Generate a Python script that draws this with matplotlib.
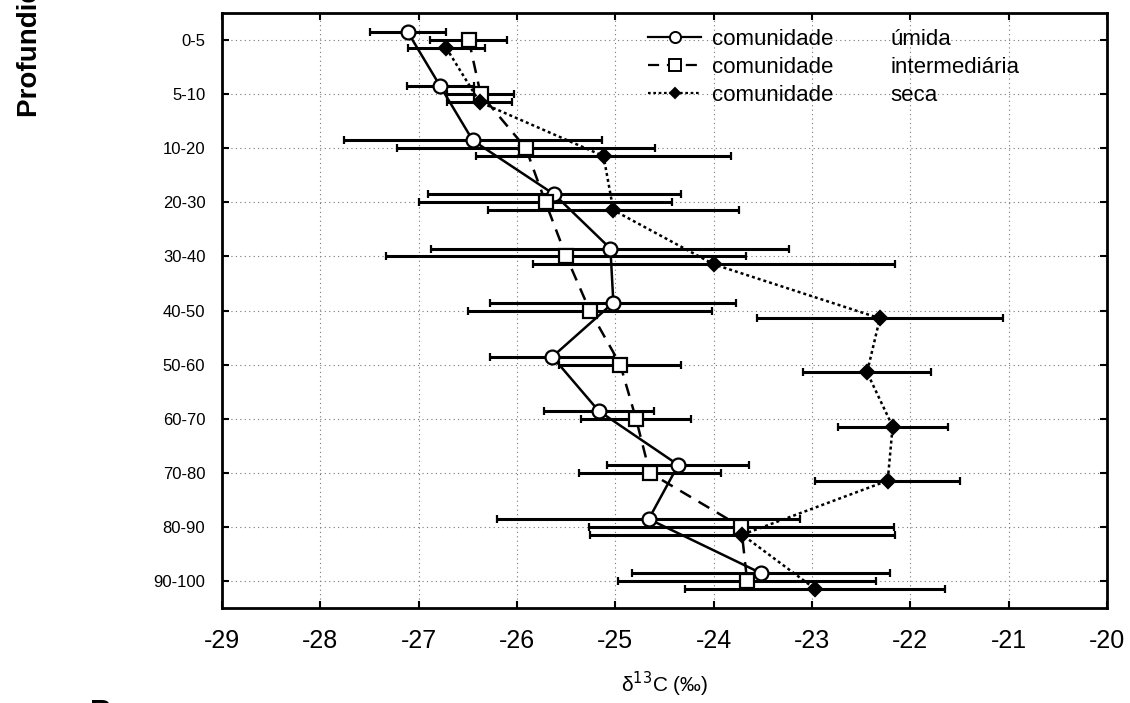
import matplotlib
matplotlib.use("Agg")
import matplotlib.pyplot as plt
from matplotlib.lines import Line2D
import numpy as np

plt.rcParams["font.family"] = ["Liberation Sans", "DejaVu Sans"]

depths = ["0-5", "5-10", "10-20", "20-30", "30-40", "40-50",
          "50-60", "60-70", "70-80", "80-90", "90-100"]

umida_mean = [-27.11, -26.78, -26.45, -25.62, -25.05, -25.02,
              -25.64, -25.17, -24.36, -24.66, -23.52]
umida_err = [0.39, 0.34, 1.31, 1.29, 1.82, 1.25, 0.63, 0.56, 0.72, 1.54, 1.31]

inter_mean = [-26.49, -26.37, -25.91, -25.71, -25.50, -25.26,
              -24.95, -24.79, -24.65, -23.72, -23.66]
inter_err = [0.39, 0.34, 1.31, 1.29, 1.83, 1.24, 0.62, 0.56, 0.72, 1.55, 1.31]

seca_mean = [-26.72, -26.38, -25.12, -25.02, -24.00, -22.31,
             -22.44, -22.18, -22.23, -23.71, -22.97]
seca_err = [0.39, 0.33, 1.30, 1.28, 1.84, 1.25, 0.65, 0.56, 0.74, 1.55, 1.32]

legend_names = ["úmida", "intermediária", "seca"]

W, H = 1130, 703
fig = plt.figure(figsize=(W / 100, H / 100), dpi=100)
ax = fig.add_axes([222 / W, 1 - 608 / H, (1107 - 222) / W, (608 - 13) / H])

pos = np.arange(1, len(depths) + 1)
offset = 0.145

series = [
    (umida_mean, umida_err, -offset, dict(linestyle="-", marker="o", markersize=10,
                                          markerfacecolor="white")),
    (inter_mean, inter_err, 0.0, dict(linestyle=(0, (5, 3.5)), marker="s", markersize=10,
                                      markerfacecolor="white")),
    (seca_mean, seca_err, offset, dict(linestyle=(0, (1.2, 1.2)), marker="D", markersize=7,
                                       markerfacecolor="black")),
]

handles = []
for mean, err, dy, style in series:
    ax.errorbar(mean, pos + dy, xerr=err, color="black", ecolor="black",
                elinewidth=2.2, capsize=3, capthick=1.5, linewidth=1.8,
                markeredgecolor="black", markeredgewidth=1.6, zorder=3, **style)
    handles.append(Line2D([], [], color="black", linewidth=1.6,
                          markeredgecolor="black", markeredgewidth=1.4,
                          **{k: v for k, v in style.items() if k != "markersize"},
                          markersize=style["markersize"] * 0.8))

ax.set_xlim(-29, -20)
ax.set_ylim(len(depths) + 0.5, 0.5)
ax.set_xticks(np.arange(-29, -19, 1))
ax.set_xticklabels([str(v) for v in range(-29, -19)])
ax.set_yticks(pos)
ax.set_yticklabels(depths)

ax.grid(True, linestyle=(0, (1, 3)), color="#777777", linewidth=0.8)
ax.set_axisbelow(True)
for s in ax.spines.values():
    s.set_linewidth(2)

ax.tick_params(axis="both", direction="in", length=5, width=1.5,
               top=True, right=True)
ax.tick_params(axis="x", pad=15, labelsize=18)
ax.tick_params(axis="y", pad=12, labelsize=12)

ax.set_xlabel(r"δ$^{13}$C (‰)", fontsize=15, labelpad=12)

leg1 = ax.legend(handles, ["comunidade"] * 3, loc="upper left",
                 bbox_to_anchor=(648 / W, 1 - 29 / H), bbox_transform=fig.transFigure,
                 frameon=False, fontsize=16, handlelength=2.4, handletextpad=0.5,
                 borderpad=0, borderaxespad=0, labelspacing=0.32)
ax.add_artist(leg1)
blank = [Line2D([], [], linestyle="none") for _ in legend_names]
ax.legend(blank, legend_names, loc="upper left",
          bbox_to_anchor=(890 / W, 1 - 29 / H), bbox_transform=fig.transFigure,
          frameon=False, fontsize=16, handlelength=0, handletextpad=0,
          borderpad=0, borderaxespad=0, labelspacing=0.32)

fig.text(37 / W, 1 - 117 / H, "Profundidade (cm)", rotation=90,
         rotation_mode="anchor", ha="left", va="baseline",
         fontsize=20, fontweight="bold")
fig.text(90 / W, 1 - 699 / H, "B", ha="left", va="top", fontsize=22,
         fontweight="bold")

fig.savefig("out.png", dpi=100)
